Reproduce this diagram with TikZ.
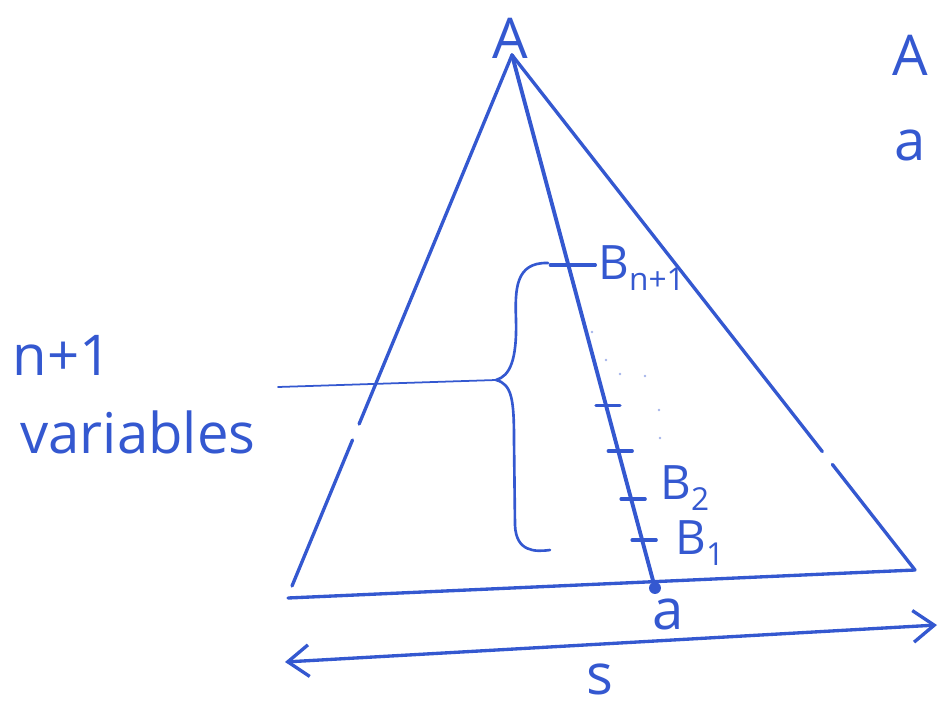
\documentclass[tikz,border=0pt]{standalone}
\usepackage{fontspec}
\setmainfont{Open Sans}
\usepackage{tikz}
\usetikzlibrary{arrows.meta,positioning,calc}
\definecolor{penblue}{RGB}{52,88,208}
\newcommand{\lowidx}[1]{\raisebox{-0.25em}{\fontsize{18}{20}\selectfont #1}}

\begin{document}
\begin{tikzpicture}[x=0.02cm, y=-0.02cm, line cap=round, line join=round,
    pen/.style={penblue, line width=1.9pt},
    hand/.style={penblue, font=\fontsize{32}{36}\selectfont, inner sep=0pt},
    blabel/.style={penblue, font=\fontsize{27}{30}\selectfont, inner sep=0pt, anchor=west}]
  \useasboundingbox (0,0) rectangle (941,707);
  % Sommets du triangle
  \coordinate (apex) at (512,55);
  \coordinate (bl) at (292,586);
  \coordinate (br) at (915,570);
  \coordinate (foot) at (655,588);
  % Côtés (avec interruptions)
  \draw[pen] (apex) -- ($(apex)!0.695!(bl)$);
  \draw[pen] ($(apex)!0.725!(bl)$) -- (bl);
  \draw[pen] (apex) -- ($(apex)!0.77!(br)$);
  \draw[pen] ($(apex)!0.795!(br)$) -- (br);
  % Base
  \draw[pen] (288,598) -- (br);
  % Médiane
  \draw[pen, line width=2.2pt] (apex) -- (foot);
  \fill[penblue] (foot) circle (3.4pt);
  % Graduations
  \foreach \f/\n in {0.394/tk5, 0.657/tk4, 0.743/tk3, 0.833/tk2, 0.91/tk1}
    \coordinate (\n) at ($(apex)!\f!(foot)$);
  \draw[pen] ($(tk5)+(-18,0)$) -- ($(tk5)+(27,0)$);
  \foreach \n in {tk4, tk3, tk2, tk1}
    \draw[pen] ($(\n)+(-10,0)$) -- ($(\n)+(14,0)$);
  \node[blabel] (bn) at (598,268) {B\lowidx{n+1}};
  \node[blabel] (b2) at (660,488) {B\lowidx{2}};
  \node[blabel] (b1) at (675,543) {B\lowidx{1}};
  % Points de suspension
  \foreach \x/\y in {592/332, 606/360, 620/374, 645/376, 659/410, 660/438}
    \fill[penblue!45] (\x,\y) circle (0.8pt);
  % Accolade
  \coordinate (tip) at (496,380);
  \draw[pen, line width=1.5pt] (548,263) .. controls (515,262) and (515,290) .. (516,320)
    .. controls (517,360) and (510,376) .. (tip)
    .. controls (512,384) and (514,400) .. (514,440)
    -- (515,525) .. controls (516,552) and (535,552) .. (550,550);
  \draw[penblue, line width=1pt] (tip) -- (278,387);
  % Textes
  \node[hand] (nvar) at (62,355) {n+1};
  \node[hand] (var) at (138,432) {variables};
  \node[hand] (la) at (510,38) {A};
  \node[hand] (ra) at (910,55) {A};
  \node[hand] (rsa) at (910,145) {a};
  \node[hand] (fa) at (668,614) {a};
  % Longueur s
  \coordinate (sl) at (285,662);
  \coordinate (sr) at (937,625);
  \draw[pen, {Straight Barb[length=12pt,width=18pt]}-{Straight Barb[length=12pt,width=18pt]}] (sl) -- (sr);
  \node[hand] (s) at (600,679) {s};
\end{tikzpicture}
\end{document}
